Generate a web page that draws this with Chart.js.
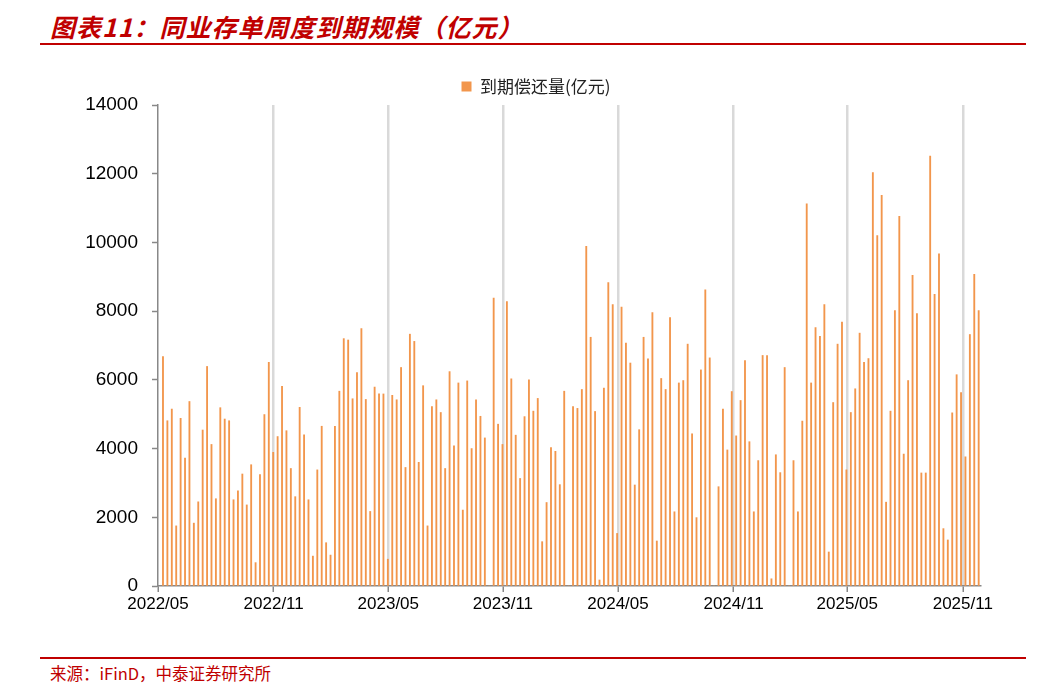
<!DOCTYPE html>
<html><head><meta charset="utf-8">
<script src="https://cdn.jsdelivr.net/npm/chart.js@4/dist/chart.umd.min.js"></script>
<style>
body{margin:0;width:1050px;height:685px;background:#fff;position:relative;overflow:hidden;font-family:"Noto Sans CJK SC",sans-serif}
#title{position:absolute;left:50px;top:8px;font-size:25px;font-weight:bold;font-style:italic;color:#C00000;letter-spacing:1px}
#l1{position:absolute;left:40px;top:43px;width:986px;height:2px;background:#C00000}
#l2{position:absolute;left:40px;top:657px;width:986px;height:2px;background:#C00000}
#src{position:absolute;left:50px;top:661px;font-size:16.5px;color:#C00000}
#wrap{position:absolute;left:0;top:64px;width:1050px;height:560px}
</style></head><body>
<div id="title">图表11：同业存单周度到期规模（亿元）</div>
<div id="l1"></div>
<div id="wrap"><canvas id="c"></canvas></div>
<div id="l2"></div>
<div id="src">来源：iFinD，中泰证券研究所</div>
<script>
const seriesName = "到期偿还量(亿元)";
const tickLabels = ["2022/05","2022/11","2023/05","2023/11","2024/05","2024/11","2025/05","2025/11"];
const tickWeeks = [-1.13, 25.1, 51.1, 77.1, 103.2, 129.4, 155.2, 181.4];
const maturity = [
6680,4810,5150,1750,4880,3720,5370,1830,2450,4540,6390,4120,2540,5190,4860,4810,2510,2770,3260,2360,3530,680,3240,4990,6510,3890,4350,5810,4520,3420,
2600,5200,4400,2510,870,3380,4650,1260,900,4650,5670,7200,7160,5450,6210,7490,5430,2170,5790,5590,5590,780,5550,5420,6360,3450,7330,7120,3600,5830,1750,
5220,5420,5050,3420,6240,4080,5910,2210,5970,4000,5420,4940,4310,0,8380,4710,4120,8280,6030,4390,3130,4930,6000,5090,5460,1290,2430,4030,3920,2950,5670,
0,5220,5170,5720,9890,7240,5080,175,5760,8830,8190,1530,8120,7070,6490,2940,4550,7240,6610,7960,1310,6040,5720,7810,2160,5910,5980,7040,4430,1990,
6290,8620,6640,0,2890,5150,3960,5660,4370,5400,6560,4200,2160,3650,6710,6710,210,3820,3300,6360,0,3650,2160,4800,11120,5910,7520,7270,8190,990,5340,
7040,7680,3380,5050,5740,7360,6510,6620,12030,10200,11370,2440,5090,8020,10760,3840,5980,9040,7930,3290,3290,12510,8490,9670,1670,1340,5040,6150,5630,3760,7320,9070,8020
];
const pts = maturity.map((v,i)=>({x:i,y:v}));
const shiftLegend = {id:'shiftLegend',afterLayout(chart){const l=chart.legend;if(l){l.left+=46;l.right+=46;}}};
new Chart(document.getElementById('c'),{
  type:'bar',
  data:{datasets:[{label:seriesName,data:pts,backgroundColor:'#F2964C',borderWidth:0,barThickness:1.2}]},
  plugins:[shiftLegend],
  options:{
    responsive:true,maintainAspectRatio:false,animation:false,
    layout:{padding:{left:0,right:70,top:2,bottom:0}},
    plugins:{legend:{display:true,labels:{boxWidth:10,boxHeight:10,color:'#222',font:{size:17,family:'"Noto Sans CJK SC"'},padding:12}},tooltip:{enabled:false}},
    scales:{
      x:{type:'linear',min:-1.13,max:185.3,offset:false,
        afterBuildTicks:s=>{s.ticks=tickWeeks.map(v=>({value:v}));},
        afterFit:s=>{s.height=38;},
        ticks:{autoSkip:false,maxRotation:0,color:'#000',font:{size:17,family:'Arial, "Liberation Sans"'},padding:2,
          callback:(v,i)=>tickLabels[i]},
        grid:{offset:false,color:(c)=>c.index===0?'rgba(0,0,0,0)':'#d9d9d9',lineWidth:2.5,tickColor:'#888',tickLength:6,tickWidth:1.5},
        border:{color:'#888',width:1.5}},
      y:{min:0,max:14000,
        afterFit:s=>{s.width=158;},
        ticks:{stepSize:2000,color:'#000',font:{size:19,family:'Arial, "Liberation Sans"'},padding:14,callback:v=>String(v)},
        grid:{drawOnChartArea:false,tickLength:6,color:'#888',tickWidth:1.5},
        border:{color:'#888',width:1.5}}
    }
  }
});
</script>
</body></html>
